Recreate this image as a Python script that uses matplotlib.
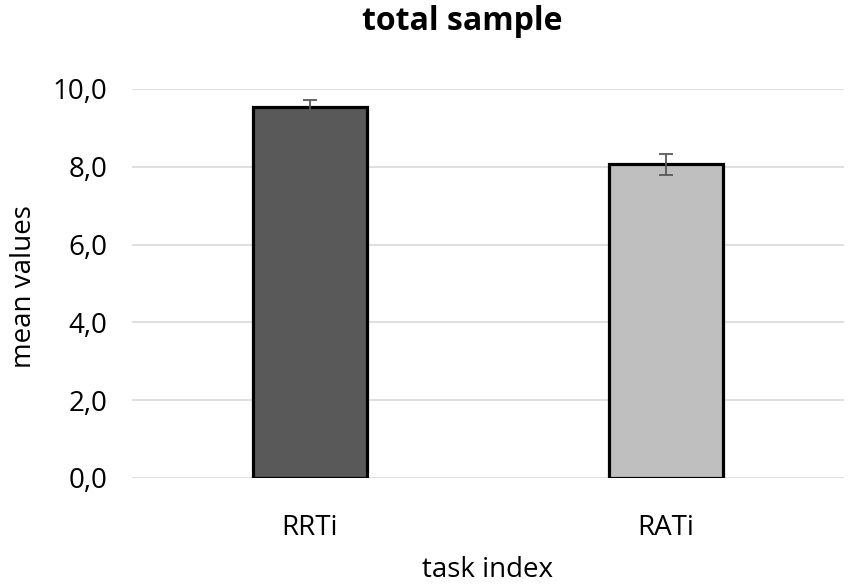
import matplotlib
matplotlib.use("Agg")
import matplotlib.pyplot as plt
from matplotlib.ticker import FuncFormatter

categories = ["RRTi", "RATi"]
means = [9.54, 8.07]
errors = [0.18, 0.27]
bar_colors = ["#595959", "#bfbfbf"]
yticks = [0, 2, 4, 6, 8, 10]

plt.rcParams['font.family'] = ['Open Sans', 'DejaVu Sans']

fig = plt.figure(figsize=(8.5, 5.85), dpi=100)
ax = fig.add_axes([132/850, 1-478/585, (844-132)/850, (478-89)/585])

x = range(len(categories))
ax.bar(x, means, width=0.32, color=bar_colors, edgecolor="black", linewidth=2.3, zorder=3)
ax.errorbar(x, means, yerr=errors, fmt="none", ecolor="#595959", elinewidth=1.3,
            capsize=5, capthick=1.3, zorder=4)

ax.set_xlim(-0.5, 1.5)
ax.set_ylim(0, 10)
ax.set_yticks(yticks)
ax.yaxis.set_major_formatter(FuncFormatter(lambda v, p: f"{v:.1f}".replace(".", ",")))
ax.set_xticks(list(x))
ax.set_xticklabels(categories)
ax.grid(axis="y", color="#d9d9d9", linewidth=1.2, zorder=0)
for s in ax.spines.values():
    s.set_visible(False)
ax.tick_params(axis="both", length=0, labelsize=20, colors="black")
ax.tick_params(axis="y", pad=18)
ax.tick_params(axis="x", pad=26)

fig.text(24/850, 1-287/585, "mean values", fontsize=20, rotation=90,
         ha="center", va="center")
ax.set_xlabel("task index", fontsize=20)
ax.xaxis.set_label_coords(0.5, -0.2)
fig.text(462/850, 1-22/585, "total sample", fontsize=23, fontweight="bold",
         ha="center", va="center")

fig.savefig("out.png", dpi=100)
